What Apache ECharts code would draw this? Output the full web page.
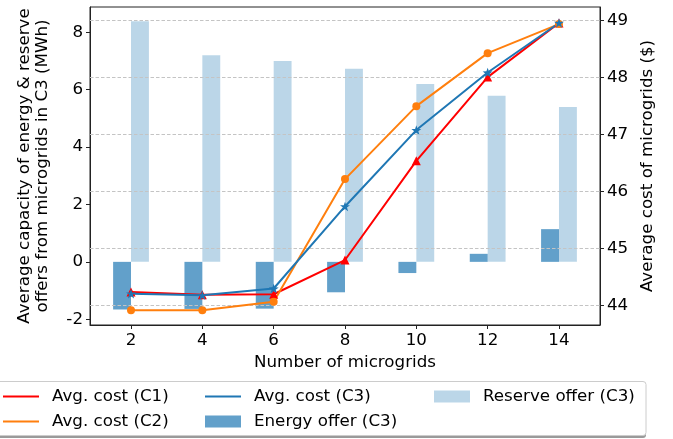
<!DOCTYPE html>
<html>
<head>
<meta charset="utf-8">
<script src="https://cdn.jsdelivr.net/npm/echarts@6/dist/echarts.min.js"></script>
<style>
  html, body { margin: 0; padding: 0; background: #fff; }
  #chart { width: 673px; height: 439px; }
</style>
</head>
<body>
<div id="chart"></div>
<script>
// Number of microgrids on the x axis
const microgrids = [2, 4, 6, 8, 10, 12, 14];

// Average energy / reserve offers of microgrids in C3 (MWh), left axis
const energyOfferC3 = [-1.66, -1.64, -1.63, -1.06, -0.39, 0.28, 1.14];
const reserveOfferC3 = [8.38, 7.20, 7.00, 6.73, 6.20, 5.79, 5.40];

// Average cost of microgrids ($), right axis
const avgCostC1 = [44.24, 44.19, 44.20, 44.80, 46.54, 48.01, 48.96];
const avgCostC2 = [43.92, 43.92, 44.07, 46.22, 47.50, 48.43, 48.94];
const avgCostC3 = [44.21, 44.18, 44.30, 45.74, 47.08, 48.09, 48.96];

// Tick labels
const xTicks = [2, 4, 6, 8, 10, 12, 14];
const leftTicks = [-2, 0, 2, 4, 6, 8];
const rightTicks = [44, 45, 46, 47, 48, 49];

const pairs = (ys) => microgrids.map((x, i) => [x, ys[i]]);

const FONT = 'DejaVu Sans';
const FS = 16.7;
const STAR = 'path://M0,-10L2.35,-3.24L9.51,-3.09L3.8,1.24L5.88,8.09L0,4L-5.88,8.09L-3.8,1.24L-9.51,-3.09L-2.35,-3.24Z';
const LINE_ICON = 'path://M0,0h36v2h-36z';
const BAR_ICON = 'path://M0,0h36v12h-36z';

const chart = echarts.init(document.getElementById('chart'), null, { renderer: 'canvas' });

const legendBase = {
  orient: 'vertical',
  top: 388,
  padding: 0,
  itemWidth: 36,
  itemHeight: 12,
  itemGap: 8,
  selectedMode: false,
  itemStyle: { borderWidth: 0 },
  textStyle: { fontFamily: FONT, fontSize: FS, color: '#000', padding: [0, 0, 0, 8] }
};

chart.setOption({
  animation: false,
  textStyle: { fontFamily: FONT },
  grid: {
    left: 90, top: 7, width: 510, height: 318,
    show: true, borderColor: '#222', borderWidth: 1, backgroundColor: 'transparent'
  },
  graphic: [
    { type: 'rect', shape: { x: -6, y: 384, width: 652, height: 54, r: 3 },
      style: { fill: '#9a9a9a' }, z: 0 },
    { type: 'rect', shape: { x: -8, y: 381.5, width: 654, height: 54, r: 3 },
      style: { fill: '#fff', stroke: '#cccccc', lineWidth: 1 }, z: 1 }
  ],
  legend: [
    Object.assign({}, legendBase, { left: 3, data: [
      { name: 'Avg. cost (C1)', icon: LINE_ICON },
      { name: 'Avg. cost (C2)', icon: LINE_ICON }
    ]}),
    Object.assign({}, legendBase, { left: 205, data: [
      { name: 'Avg. cost (C3)', icon: LINE_ICON },
      { name: 'Energy offer (C3)', icon: BAR_ICON }
    ]}),
    Object.assign({}, legendBase, { left: 434, data: [
      { name: 'Reserve offer (C3)', icon: BAR_ICON }
    ]})
  ],
  xAxis: {
    type: 'value',
    min: 0.85, max: 15.15,
    name: 'Number of microgrids',
    nameLocation: 'middle',
    nameGap: 27,
    nameTextStyle: { fontFamily: FONT, fontSize: FS, color: '#000' },
    axisLine: { show: true, onZero: false, lineStyle: { color: '#222', width: 1 } },
    axisTick: { show: true, length: 4, customValues: xTicks, lineStyle: { color: '#222', width: 1 } },
    axisLabel: { customValues: xTicks, margin: 7, fontFamily: FONT, fontSize: FS, color: '#000' },
    splitLine: { show: false }
  },
  yAxis: [
    {
      type: 'value',
      position: 'left',
      min: -2.2, max: 8.88,
      name: 'Average capacity of energy & reserve\noffers from microgrids in C3 (MWh)',
      nameLocation: 'middle',
      nameRotate: 90,
      nameGap: 38,
      nameTextStyle: { fontFamily: FONT, fontSize: FS, color: '#000', lineHeight: 18 },
      axisLine: { show: true, onZero: false, lineStyle: { color: '#222', width: 1 } },
      axisTick: { show: true, length: 4, customValues: leftTicks, lineStyle: { color: '#222', width: 1 } },
      axisLabel: { customValues: leftTicks, margin: 7, fontFamily: FONT, fontSize: FS, color: '#000' },
      splitLine: { show: false }
    },
    {
      type: 'value',
      position: 'right',
      min: 43.66, max: 49.24,
      z: 2,
      name: 'Average cost of microgrids ($)',
      nameLocation: 'middle',
      nameRotate: 90,
      nameGap: 30,
      nameTextStyle: { fontFamily: FONT, fontSize: FS, color: '#000' },
      axisLine: { show: true, onZero: false, lineStyle: { color: '#222', width: 1 } },
      axisTick: { show: true, length: 4, customValues: rightTicks, lineStyle: { color: '#222', width: 1 } },
      axisLabel: { customValues: rightTicks, margin: 7, fontFamily: FONT, fontSize: FS, color: '#000' },
      splitLine: { show: true, lineStyle: { color: '#c4c4c4', width: 1, type: [3.5, 2] } }
    }
  ],
  series: [
    {
      name: 'Energy offer (C3)', type: 'bar', xAxisIndex: 0, yAxisIndex: 0,
      data: pairs(energyOfferC3), barWidth: 17.9, barGap: '0%', z: 1,
      itemStyle: { color: 'rgba(31,119,180,0.7)' }
    },
    {
      name: 'Reserve offer (C3)', type: 'bar', xAxisIndex: 0, yAxisIndex: 0,
      data: pairs(reserveOfferC3), barWidth: 17.9, barGap: '0%', z: 1,
      itemStyle: { color: 'rgba(31,119,180,0.3)' }
    },
    {
      name: 'Avg. cost (C1)', type: 'line', xAxisIndex: 0, yAxisIndex: 1,
      data: pairs(avgCostC1), z: 3,
      symbol: 'triangle', symbolSize: 9,
      lineStyle: { color: '#ff0000', width: 2 },
      itemStyle: { color: '#ff0000' }
    },
    {
      name: 'Avg. cost (C2)', type: 'line', xAxisIndex: 0, yAxisIndex: 1,
      data: pairs(avgCostC2), z: 3,
      symbol: 'circle', symbolSize: 8,
      lineStyle: { color: '#ff7f0e', width: 2 },
      itemStyle: { color: '#ff7f0e' }
    },
    {
      name: 'Avg. cost (C3)', type: 'line', xAxisIndex: 0, yAxisIndex: 1,
      data: pairs(avgCostC3), z: 3,
      symbol: STAR, symbolSize: 10, symbolKeepAspect: true,
      lineStyle: { color: '#1f77b4', width: 2 },
      itemStyle: { color: '#1f77b4' }
    }
  ]
});
</script>
</body>
</html>
